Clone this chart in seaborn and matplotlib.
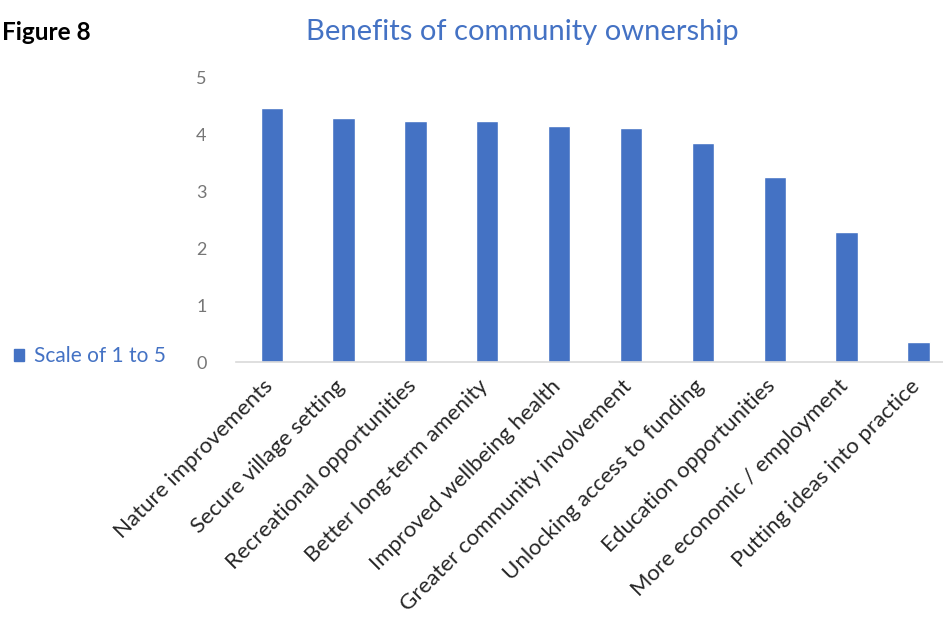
import matplotlib
matplotlib.use("Agg")
import matplotlib.pyplot as plt
import seaborn as sns
import pandas as pd
import matplotlib.transforms as mtransforms

categories = [
    "Nature improvements",
    "Secure village setting",
    "Recreational opportunities",
    "Better long-term amenity",
    "Improved wellbeing health",
    "Greater community involvement",
    "Unlocking access to funding",
    "Education opportunities",
    "More economic / employment",
    "Putting ideas into practice",
]
values = [4.47, 4.29, 4.25, 4.25, 4.16, 4.12, 3.86, 3.26, 2.28, 0.35]
series_name = "Scale of 1 to 5"
title = "Benefits of community ownership"
y_ticks = [0, 1, 2, 3, 4, 5]

sns.set_theme(style="white")
plt.rcParams["font.family"] = ["Lato", "DejaVu Sans"]

df = pd.DataFrame({"category": categories, "value": values})

fig = plt.figure(figsize=(9.43, 6.22), dpi=100)
ax = fig.add_axes([0.25, 0.418, 0.762, 0.4566])

bar_color = "#4472C4"
sns.barplot(data=df, x="category", y="value", color=bar_color, width=0.31,
            saturation=1, ax=ax, legend=False)

ax.set_ylim(0, 5)
ax.set_xlim(-0.5, 9.5)
ax.set_yticks(y_ticks)
ax.set_yticklabels([str(t) for t in y_ticks], color="#767676", fontsize=13)
ax.tick_params(axis="y", length=0, pad=21)
ax.tick_params(axis="x", length=0, pad=0)
ax.set_xlabel("")
ax.set_ylabel("")
for s in ["top", "right", "left"]:
    ax.spines[s].set_visible(False)
ax.spines["bottom"].set_color("#D9D9D9")
ax.spines["bottom"].set_linewidth(1.2)

offset = mtransforms.ScaledTranslation(-2 / 100, -21 / 100, fig.dpi_scale_trans)
ax.set_xticks(range(len(categories)))
ax.set_xticklabels(categories, rotation=45, ha="right", va="center",
                   rotation_mode="anchor", fontsize=16, color="#262626")
for lbl in ax.get_xticklabels():
    lbl.set_transform(lbl.get_transform() + offset)

fig.text(522 / 943, 1 - 32 / 622, title, ha="center", va="center",
         fontsize=21, color="#4472C4")
fig.text(2 / 943, 1 - 32 / 622, "Figure 8", ha="left", va="center",
         fontsize=17.5, fontweight="bold", color="black")

# legend
handles = [plt.Rectangle((0, 0), 1, 1, color=bar_color)]
fig.legend(handles, [series_name], loc="center left",
           bbox_to_anchor=(14 / 943, 1 - 356 / 622), frameon=False,
           borderaxespad=0, borderpad=0,
           fontsize=15, handlelength=0.5, handleheight=0.5,
           handletextpad=0.45, labelcolor="#4472C4")

fig.savefig("out.png", dpi=100)
